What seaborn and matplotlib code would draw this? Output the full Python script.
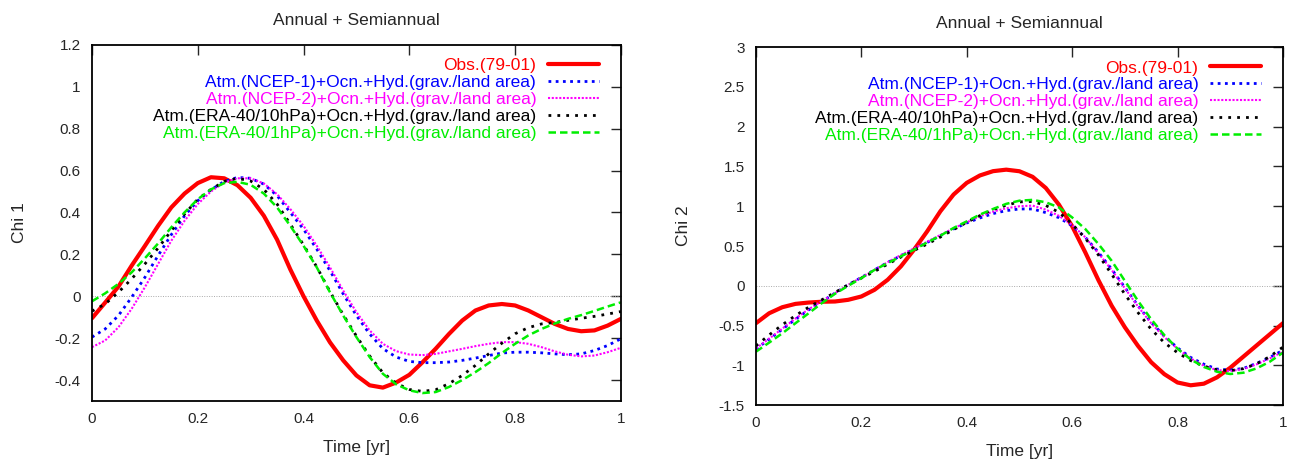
import numpy as np
import matplotlib
matplotlib.use('Agg')
import matplotlib.pyplot as plt
from matplotlib.ticker import FuncFormatter
import seaborn as sns

# time grid (fraction of a year)
time_yr = [0.000, 0.025, 0.050, 0.075, 0.100, 0.125, 0.150, 0.175, 0.200, 0.225,
           0.250, 0.275, 0.300, 0.325, 0.350, 0.375, 0.400, 0.425, 0.450, 0.475,
           0.500, 0.525, 0.550, 0.575, 0.600, 0.625, 0.650, 0.675, 0.700, 0.725,
           0.750, 0.775, 0.800, 0.825, 0.850, 0.875, 0.900, 0.925, 0.950, 0.975, 1.000]

# Chi 1
chi1_obs = [-0.105, -0.030, 0.046, 0.146, 0.240, 0.336, 0.424, 0.490, 0.540, 0.568,
            0.563, 0.530, 0.470, 0.384, 0.270, 0.128, 0.000, -0.116, -0.220, -0.306,
            -0.378, -0.425, -0.436, -0.412, -0.375, -0.315, -0.250, -0.180, -0.116, -0.068,
            -0.044, -0.037, -0.044, -0.068, -0.100, -0.132, -0.156, -0.167, -0.163, -0.140, -0.108]
chi1_ncep1 = [-0.195, -0.156, -0.092, -0.005, 0.090, 0.194, 0.294, 0.384, 0.456, 0.508,
              0.548, 0.567, 0.563, 0.535, 0.480, 0.400, 0.320, 0.225, 0.122, 0.011,
              -0.092, -0.180, -0.250, -0.290, -0.311, -0.317, -0.317, -0.314, -0.306, -0.295,
              -0.283, -0.271, -0.267, -0.267, -0.270, -0.275, -0.279, -0.275, -0.259, -0.235, -0.203]
chi1_ncep2 = [-0.243, -0.211, -0.148, -0.060, 0.043, 0.154, 0.265, 0.360, 0.440, 0.500,
              0.543, 0.563, 0.563, 0.538, 0.487, 0.416, 0.336, 0.241, 0.138, 0.027,
              -0.076, -0.163, -0.227, -0.262, -0.278, -0.281, -0.275, -0.263, -0.251, -0.238,
              -0.227, -0.219, -0.219, -0.227, -0.243, -0.263, -0.279, -0.287, -0.283, -0.267, -0.246]
chi1_era10 = [-0.071, -0.037, 0.019, 0.083, 0.154, 0.230, 0.313, 0.392, 0.463, 0.510,
              0.548, 0.563, 0.550, 0.510, 0.440, 0.344, 0.245, 0.140, 0.022, -0.088,
              -0.190, -0.285, -0.365, -0.415, -0.445, -0.454, -0.446, -0.417, -0.378, -0.330,
              -0.275, -0.224, -0.179, -0.150, -0.132, -0.125, -0.115, -0.105, -0.096, -0.085, -0.073]
chi1_era1 = [-0.024, 0.014, 0.059, 0.114, 0.181, 0.252, 0.329, 0.400, 0.463, 0.510,
             0.540, 0.546, 0.532, 0.490, 0.424, 0.336, 0.241, 0.138, 0.019, -0.092,
             -0.195, -0.290, -0.370, -0.420, -0.449, -0.462, -0.457, -0.433, -0.400, -0.362,
             -0.319, -0.271, -0.227, -0.187, -0.156, -0.130, -0.108, -0.090, -0.070, -0.049, -0.029]

# Chi 2
chi2_obs = [-0.470, -0.345, -0.269, -0.227, -0.210, -0.200, -0.197, -0.176, -0.134, -0.050,
            0.076, 0.244, 0.454, 0.685, 0.937, 1.147, 1.294, 1.387, 1.441, 1.460,
            1.440, 1.370, 1.230, 1.020, 0.750, 0.420, 0.070, -0.250, -0.520, -0.755,
            -0.960, -1.110, -1.215, -1.250, -1.230, -1.150, -1.030, -0.890, -0.750, -0.610, -0.470]
chi2_ncep1 = [-0.794, -0.672, -0.546, -0.420, -0.303, -0.197, -0.092, 0.013, 0.105, 0.200,
              0.294, 0.378, 0.462, 0.546, 0.630, 0.714, 0.790, 0.853, 0.908, 0.945,
              0.966, 0.966, 0.920, 0.856, 0.756, 0.610, 0.420, 0.210, -0.020, -0.250,
              -0.460, -0.630, -0.780, -0.900, -0.985, -1.046, -1.059, -1.038, -0.975, -0.900, -0.810]
chi2_ncep2 = [-0.786, -0.664, -0.538, -0.412, -0.294, -0.193, -0.092, 0.013, 0.105, 0.200,
              0.298, 0.387, 0.470, 0.555, 0.639, 0.723, 0.798, 0.874, 0.933, 0.975,
              1.000, 1.008, 0.958, 0.880, 0.765, 0.610, 0.410, 0.200, -0.030, -0.260,
              -0.470, -0.645, -0.790, -0.912, -1.004, -1.059, -1.071, -1.046, -0.987, -0.912, -0.828]
chi2_era10 = [-0.755, -0.618, -0.490, -0.374, -0.269, -0.176, -0.084, 0.013, 0.097, 0.180,
              0.273, 0.361, 0.445, 0.525, 0.613, 0.706, 0.798, 0.882, 0.958, 1.013,
              1.055, 1.060, 1.010, 0.924, 0.777, 0.597, 0.387, 0.147, -0.105, -0.336,
              -0.546, -0.714, -0.840, -0.940, -1.010, -1.055, -1.067, -1.040, -0.980, -0.890, -0.770]
chi2_era1 = [-0.828, -0.714, -0.597, -0.470, -0.345, -0.218, -0.100, 0.000, 0.097, 0.200,
             0.286, 0.370, 0.454, 0.546, 0.630, 0.727, 0.810, 0.895, 0.966, 1.030,
             1.070, 1.080, 1.050, 0.985, 0.860, 0.714, 0.525, 0.315, 0.063, -0.189,
             -0.420, -0.620, -0.790, -0.925, -1.020, -1.080, -1.108, -1.092, -1.038, -0.954, -0.840]

labels = ['Obs.(79-01)',
          'Atm.(NCEP-1)+Ocn.+Hyd.(grav./land area)',
          'Atm.(NCEP-2)+Ocn.+Hyd.(grav./land area)',
          'Atm.(ERA-40/10hPa)+Ocn.+Hyd.(grav./land area)',
          'Atm.(ERA-40/1hPa)+Ocn.+Hyd.(grav./land area)']

styles = [
    dict(color='#ff0000', linestyle='-', linewidth=3.0),
    dict(color='#0000ff', linestyle=(0, (1, 1.6)), linewidth=2.0),
    dict(color='#ff00ff', linestyle=(0, (1, 0.8)), linewidth=1.5),
    dict(color='#000000', linestyle=(0, (1, 2.2)), linewidth=2.0),
    dict(color='#00ee00', linestyle=(0, (3, 1.6)), linewidth=1.8),
]

sns.set_style('white')
plt.rcParams['font.family'] = ['Liberation Sans', 'DejaVu Sans']
plt.rcParams['axes.unicode_minus'] = False

fig = plt.figure(figsize=(12.9, 4.62), dpi=100)
ax1 = fig.add_axes([0.0713, 0.132, 0.410, 0.771])
ax2 = fig.add_axes([0.586, 0.123, 0.4085, 0.775])


def draw_panel(ax, series, ylabel, ylim, yticks):
    ax.axhline(0, color='#aaaaaa', linewidth=0.7, linestyle=(0, (1, 1.5)), zorder=1)
    for vals, lab, st in zip(series, labels, styles):
        sns.lineplot(x=time_yr, y=vals, ax=ax, label=lab, **st)
    ax.set_xlim(0, 1)
    ax.set_ylim(*ylim)
    ax.set_xticks(np.arange(0, 1.01, 0.2))
    ax.set_yticks(yticks)
    fmt = FuncFormatter(lambda v, p: '%g' % round(v, 3))
    ax.xaxis.set_major_formatter(fmt)
    ax.yaxis.set_major_formatter(fmt)
    ax.tick_params(direction='in', top=True, right=True, length=7, width=1,
                   labelsize=11, pad=8)
    for sp in ax.spines.values():
        sp.set_linewidth(1.3)
        sp.set_color('black')
    ax.set_xlabel('Time [yr]', fontsize=12.5, labelpad=10)
    ax.set_ylabel(ylabel, fontsize=12.5, labelpad=20)
    ax.set_title('Annual + Semiannual', fontsize=12.5, pad=14)
    leg = ax.legend(loc='upper right', bbox_to_anchor=(0.958, 0.963), frameon=False,
                    markerfirst=False, labelcolor='linecolor', fontsize=12.5,
                    handlelength=2.9, handletextpad=0.7, labelspacing=0.1,
                    borderaxespad=0, borderpad=0)
    return leg


draw_panel(ax1, [chi1_obs, chi1_ncep1, chi1_ncep2, chi1_era10, chi1_era1],
           'Chi 1', (-0.5, 1.2), np.arange(-0.4, 1.21, 0.2))
draw_panel(ax2, [chi2_obs, chi2_ncep1, chi2_ncep2, chi2_era10, chi2_era1],
           'Chi 2', (-1.5, 3.0), np.arange(-1.5, 3.01, 0.5))

fig.savefig('out.png', dpi=100)
